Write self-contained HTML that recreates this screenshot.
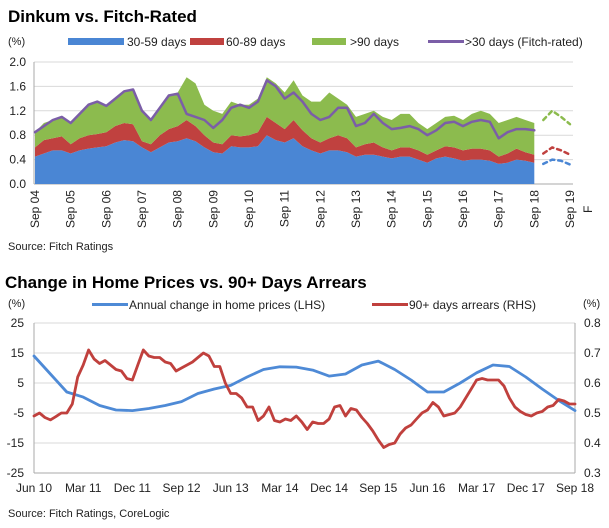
<!DOCTYPE html>
<html><head><meta charset="utf-8"><style>
body{margin:0;background:#fff;width:609px;height:528px;overflow:hidden}
svg{display:block;font-family:"Liberation Sans",Arial,sans-serif}
</style></head><body>
<svg id="c" width="609" height="528" viewBox="0 0 609 528">
<text x="8" y="22" font-size="17" font-weight="bold" fill="#000">Dinkum vs. Fitch-Rated</text>
<text x="8" y="45" font-size="11" fill="#222">(%)</text>
<g font-size="12" fill="#222">
<rect x="68" y="38" width="56" height="7" fill="#4a86d4"/>
<text x="127" y="46">30-59 days</text>
<rect x="190" y="38" width="34" height="7" fill="#c0413f"/>
<text x="226" y="46">60-89 days</text>
<rect x="312" y="38" width="34" height="7" fill="#8cbb4e"/>
<text x="350" y="46">&gt;90 days</text>
<rect x="428" y="40" width="36" height="3" fill="#7b5ea7"/>
<text x="465" y="46">&gt;30 days (Fitch-rated)</text>
</g>
<g id="topchart"></g>
<text x="8" y="250" font-size="11" fill="#222">Source: Fitch Ratings</text>

<text x="5" y="288" font-size="17" font-weight="bold" fill="#000">Change in Home Prices vs. 90+ Days Arrears</text>
<text x="8" y="307" font-size="11" fill="#222">(%)</text>
<text x="583" y="307" font-size="11" fill="#222">(%)</text>
<g font-size="12" fill="#222">
<rect x="92" y="303" width="36" height="3" fill="#4e8ad6"/>
<text x="129" y="309">Annual change in home prices (LHS)</text>
<rect x="372" y="303" width="36" height="3" fill="#c0403d"/>
<text x="409" y="309">90+ days arrears (RHS)</text>
</g>
<g id="botchart"></g>
<text x="8" y="517" font-size="11" fill="#222">Source: Fitch Ratings, CoreLogic</text>
</svg>
<script>
const topYears = ["Sep 04","Sep 05","Sep 06","Sep 07","Sep 08","Sep 09","Sep 10","Sep 11","Sep 12","Sep 13","Sep 14","Sep 15","Sep 16","Sep 17","Sep 18","Sep 19"];
const topTicks = [0,0.4,0.8,1.2,1.6,2.0];
const d30 = [.45,.5,.55,.55,.5,.55,.58,.6,.62,.68,.72,.7,.6,.52,.6,.68,.7,.75,.7,.6,.52,.5,.62,.6,.6,.62,.8,.72,.68,.75,.62,.55,.5,.55,.55,.52,.45,.48,.48,.45,.42,.45,.45,.4,.35,.42,.45,.42,.38,.4,.4,.38,.33,.35,.4,.38,.35];
const redTop = [.6,.72,.75,.78,.65,.75,.8,.82,.85,.95,1.0,.98,.7,.65,.8,.9,.95,1.05,.95,.8,.68,.65,.8,.78,.8,.85,1.1,1.0,.9,1.05,.88,.75,.68,.75,.8,.75,.6,.65,.68,.6,.55,.6,.6,.55,.48,.55,.62,.6,.55,.58,.58,.55,.45,.5,.58,.52,.48];
const greenTop = [.85,1.0,1.05,1.1,1.0,1.15,1.3,1.35,1.3,1.4,1.5,1.55,1.2,1.05,1.25,1.45,1.5,1.75,1.65,1.3,1.2,1.15,1.35,1.3,1.3,1.4,1.75,1.65,1.5,1.7,1.45,1.35,1.35,1.5,1.4,1.3,1.1,1.15,1.2,1.1,1.05,1.15,1.15,1.0,.9,1.0,1.1,1.12,1.05,1.15,1.2,1.15,1.0,1.05,1.1,1.05,1.0];
const d60 = redTop.map((v,i)=>+(v-d30[i]).toFixed(3));
const d90 = greenTop.map((v,i)=>+(v-redTop[i]).toFixed(3));
const fitch = [.85,.95,1.05,1.1,1.0,1.15,1.3,1.35,1.28,1.4,1.52,1.55,1.2,1.05,1.25,1.45,1.48,1.15,1.1,1.05,.92,1.05,1.25,1.3,1.25,1.35,1.7,1.6,1.4,1.5,1.35,1.15,1.05,1.1,1.25,1.25,.95,1.0,1.15,1.0,.9,.92,.95,.9,.8,.88,1.0,1.02,.95,1.02,1.05,1.02,.75,.85,.9,.9,.88];
const f30 = [.33,.4,.38,.32];
const fRedTop = [.5,.6,.55,.48];
const fGreenTop = [1.05,1.2,1.1,.98];

const botLabels = ["Jun 10","Mar 11","Dec 11","Sep 12","Jun 13","Mar 14","Dec 14","Sep 15","Jun 16","Mar 17","Dec 17","Sep 18"];
const lhsTicks = [25,15,5,-5,-15,-25];
const rhsTicks = [0.8,0.7,0.6,0.5,0.4,0.3];
const homePrices = [14,8,2,0.3,-2.5,-4,-4.2,-3.5,-2.5,-1.2,1.5,3,4.2,7,9.5,10.4,10.3,9.3,7.3,8,11,12.3,9.5,6,2,2,5,8.4,11,10.5,7,3,-0.8,-4.2];
const arrears = [.49,.50,.485,.477,.488,.50,.50,.53,.62,.66,.71,.68,.665,.675,.66,.645,.64,.615,.61,.66,.71,.69,.685,.685,.67,.665,.64,.65,.66,.67,.685,.70,.69,.655,.655,.60,.565,.565,.55,.52,.52,.475,.49,.52,.475,.47,.48,.475,.49,.47,.445,.47,.465,.465,.48,.52,.525,.49,.515,.51,.485,.465,.44,.41,.385,.395,.40,.43,.45,.46,.48,.50,.51,.535,.52,.49,.495,.50,.52,.55,.58,.61,.615,.61,.61,.61,.59,.55,.52,.505,.495,.49,.50,.505,.52,.525,.545,.54,.53,.53];

const NS="http://www.w3.org/2000/svg";
function mk(p,tag,attrs){const e=document.createElementNS(NS,tag);for(const k in attrs)e.setAttribute(k,attrs[k]);p.appendChild(e);return e;}

const topG=document.getElementById('topchart');
const tL=34,tR=573,tT=62,tB=184;
const tx0=35,tx1=570;
const qx=i=>tx0+(tx1-tx0)*i/60;
const ty=v=>tB-(tB-tT)*v/2.0;
topTicks.forEach(v=>{
  const g=mk(topG,'line',{x1:tL,x2:tR,y1:ty(v),y2:ty(v),stroke:v===0?'#aaa':'#d9d9d9','stroke-width':1});
  
  
  const t=mk(topG,'text',{x:26,y:ty(v)+4,'text-anchor':'end','font-size':12,fill:'#222'});
  t.textContent=v.toFixed(1);
  
  
});
mk(topG,'line',{x1:tL,x2:tL,y1:tT,y2:tB,stroke:'#aaa'});
function area(lo,hi,color,name){
  let d='';
  hi.forEach((v,i)=>{d+=(i?'L':'M')+qx(i).toFixed(1)+','+ty(v).toFixed(1);});
  for(let i=lo.length-1;i>=0;i--)d+='L'+qx(i).toFixed(1)+','+ty(lo[i]).toFixed(1);
  const p=mk(topG,'path',{d:d+'Z',fill:color});
  
  
}
const zeros=d30.map(()=>0);
const top30=d30.slice();
const top60=d30.map((v,i)=>v+d60[i]);
const top90=top60.map((v,i)=>v+d90[i]);
area(zeros,top30,'#4a86d4','area-30-59-days');
area(top30,top60,'#c0413f','area-60-89-days');
area(top60,top90,'#8cbb4e','area-90plus-days');
function line(parent,arr,xf,yf,color,w,name,dash){
  const d=arr.map((v,i)=>(i?'L':'M')+xf(i).toFixed(1)+','+yf(v).toFixed(1)).join('');
  const a={d:d,fill:'none',stroke:color,'stroke-width':w,'stroke-linejoin':'round','stroke-linecap':'round'};
  if(dash)a['stroke-dasharray']=dash;
  const p=mk(parent,'path',a);
  
  
}
line(topG,fitch,qx,ty,'#7b5ea7',2.5,'line-fitch-rated');
const fx=i=>qx(57+i);
line(topG,f30,fx,ty,'#4a86d4',2.5,'forecast-30-59-days','4 4');
line(topG,fRedTop,fx,ty,'#c0413f',2.5,'forecast-60-89-days','4 4');
line(topG,fGreenTop,fx,ty,'#8cbb4e',2.5,'forecast-90plus-days','4 4');
topYears.forEach((s,i)=>{
  const x=qx(i*4);
  const t=mk(topG,'text',{x:0,y:0,'font-size':12,fill:'#222','text-anchor':'end',transform:`translate(${x+4},${tB+6}) rotate(-90)`});
  t.textContent=s;
  
  
});
const F=mk(topG,'text',{x:0,y:0,'font-size':12,fill:'#222',transform:`translate(592,213) rotate(-90)`});
F.textContent='F';



const botG=document.getElementById('botchart');
const bL=34,bR=575,bT=323,bB=473;
const yl=v=>bB-(bB-bT)*(v+25)/50;
const yr=v=>bB-(bB-bT)*(v-0.3)/0.5;
lhsTicks.forEach((v,i)=>{
  const g=mk(botG,'line',{x1:bL,x2:bR,y1:yl(v),y2:yl(v),stroke:'#d9d9d9'});
  
  
  const t=mk(botG,'text',{x:24,y:yl(v)+4,'text-anchor':'end','font-size':12,fill:'#222'});
  t.textContent=v;
  
  
  const r=mk(botG,'text',{x:584,y:yr(rhsTicks[i])+4,'font-size':12,fill:'#222'});
  r.textContent=rhsTicks[i].toFixed(1);
  
  
});
mk(botG,'line',{x1:bL,x2:bL,y1:bT,y2:bB,stroke:'#aaa'});
mk(botG,'line',{x1:bR,x2:bR,y1:bT,y2:bB,stroke:'#aaa'});
mk(botG,'line',{x1:bL,x2:bR,y1:bB,y2:bB,stroke:'#aaa'});
const hx=i=>bL+(bR-bL)*i/(homePrices.length-1);
const ax=i=>bL+(bR-bL)*i/(arrears.length-1);
line(botG,homePrices,hx,yl,'#4e8ad6',2.8,'line-home-prices');
line(botG,arrears,ax,yr,'#c0403d',2.8,'line-arrears');
botLabels.forEach((s,i)=>{
  const x=bL+(bR-bL)*i/(botLabels.length-1);
  const t=mk(botG,'text',{x:x,y:492,'text-anchor':'middle','font-size':12,fill:'#222'});
  t.textContent=s;
  
  
});
</script>
</body></html>
